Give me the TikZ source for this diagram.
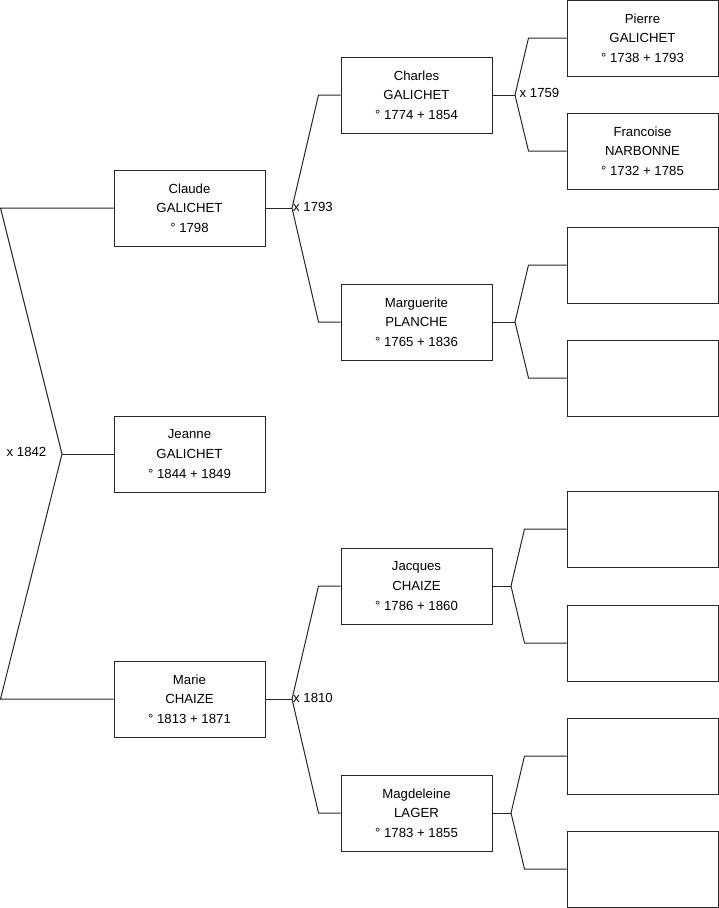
\documentclass[tikz,border=0pt]{standalone}
\usepackage{fontspec}
\setmainfont{Liberation Sans}
\begin{document}
\begin{tikzpicture}[x=1pt,y=-1pt,
  person/.style={draw=black!85,line width=1pt,minimum width=151pt,minimum height=76pt,inner sep=0pt,align=center,font=\fontsize{13.2}{19.6}\selectfont,fill=white},
  link/.style={draw=black!85,line width=1pt},
  mlabel/.style={font=\fontsize{13.2}{15}\selectfont,inner sep=0pt}]
\useasboundingbox (0,0) rectangle (719,908);
% generation 1
\node[person] (claude) at (189.5,208) {Claude\\GALICHET\\° 1798};
\node[person] (jeanne) at (189.5,454) {Jeanne\\GALICHET\\° 1844 + 1849};
\node[person] (marie) at (189.5,699) {Marie\\CHAIZE\\° 1813 + 1871};
% generation 2
\node[person] (charles) at (416.5,95) {Charles\\GALICHET\\° 1774 + 1854};
\node[person] (marguerite) at (416.5,322) {Marguerite\\PLANCHE\\° 1765 + 1836};
\node[person] (jacques) at (416.5,586) {Jacques\\CHAIZE\\° 1786 + 1860};
\node[person] (magdeleine) at (416.5,813) {Magdeleine\\LAGER\\° 1783 + 1855};
% generation 3
\node[person] (pierre) at (642.5,38) {Pierre\\GALICHET\\° 1738 + 1793};
\node[person] (francoise) at (642.5,151) {Francoise\\NARBONNE\\° 1732 + 1785};
\node[person] (e1) at (642.5,265) {};
\node[person] (e2) at (642.5,378) {};
\node[person] (e3) at (642.5,529) {};
\node[person] (e4) at (642.5,643) {};
\node[person] (e5) at (642.5,756) {};
\node[person] (e6) at (642.5,869) {};
% junction points
\coordinate (L1) at (0.5,208);
\coordinate (L2) at (0.5,699);
\coordinate (V0) at (62,454);
\coordinate (V1) at (292,208);
\coordinate (V6) at (292,699);
\coordinate (V2) at (515,95);
\coordinate (V3) at (515,322);
\coordinate (V4) at (511,586);
\coordinate (V5) at (511,813);
% connectors
\draw[link] (claude.west) -- (L1) -- (V0) -- (L2) -- (marie.west);
\draw[link] (V0) -- (jeanne.west);
\draw[link] (claude.east) -- (V1);
\draw[link] (charles.west) -- ([xshift=-22pt]charles.west) -- (V1) -- ([xshift=-22pt]marguerite.west) -- (marguerite.west);
\draw[link] (marie.east) -- (V6);
\draw[link] (jacques.west) -- ([xshift=-22pt]jacques.west) -- (V6) -- ([xshift=-22pt]magdeleine.west) -- (magdeleine.west);
\draw[link] (charles.east) -- (V2);
\draw[link] (pierre.west) -- ([xshift=-38pt]pierre.west) -- (V2) -- ([xshift=-38pt]francoise.west) -- (francoise.west);
\draw[link] (marguerite.east) -- (V3);
\draw[link] (e1.west) -- ([xshift=-38pt]e1.west) -- (V3) -- ([xshift=-38pt]e2.west) -- (e2.west);
\draw[link] (jacques.east) -- (V4);
\draw[link] (e3.west) -- ([xshift=-42pt]e3.west) -- (V4) -- ([xshift=-42pt]e4.west) -- (e4.west);
\draw[link] (magdeleine.east) -- (V5);
\draw[link] (e5.west) -- ([xshift=-42pt]e5.west) -- (V5) -- ([xshift=-42pt]e6.west) -- (e6.west);
% marriage labels
\node[mlabel,anchor=east] (m1842) at (46.5,452) {x 1842};
\node[mlabel,anchor=west] (m1793) at (293,207) {x 1793};
\node[mlabel,anchor=west] (m1810) at (293,698) {x 1810};
\node[mlabel,anchor=west] (m1759) at (519.5,93) {x 1759};
\end{tikzpicture}
\end{document}
